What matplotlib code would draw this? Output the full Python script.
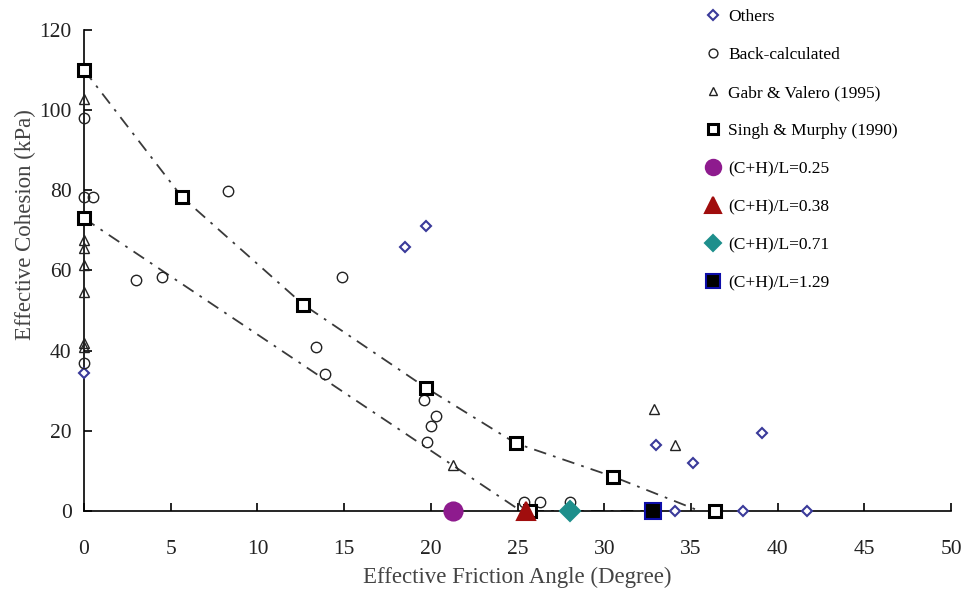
import matplotlib.pyplot as plt

plt.rcParams["font.family"] = ["Liberation Serif", "DejaVu Serif"]

# Others (blue open diamonds)
others_x = [0, 18.5, 19.7, 33.0, 35.1, 39.1, 34.1, 38.0, 41.7]
others_y = [34.5, 65.9, 71.1, 16.5, 11.9, 19.4, 0, 0, 0]

# Back-calculated (open circles)
back_x = [0, 0, 0.5, 8.3, 3.0, 4.5, 14.9, 13.4, 13.9, 0, 19.6, 20.3, 20.0, 19.8, 25.4, 26.3, 28.0]
back_y = [98, 78.3, 78.3, 79.9, 57.6, 58.4, 58.4, 40.8, 34.1, 37, 27.7, 23.7, 21.2, 17.3, 2.3, 2.3, 2.3]

# Gabr & Valero (1995) (open triangles)
gabr_x = [0, 0, 0, 0, 0, 0, 0, 21.25, 32.85, 34.06]
gabr_y = [102.7, 67.5, 65.5, 61.3, 54.7, 41, 42, 11.6, 25.4, 16.5]

# Singh & Murphy (1990) (open squares)
singh_x = [0, 0, 5.65, 12.64, 19.7, 24.9, 30.5, 36.4, 25.7]
singh_y = [110, 73, 78.3, 51.5, 30.8, 16.9, 8.6, 0, 0]

# dash-dot bounding lines
upper_x = [0, 5.65, 12.64, 19.7, 24.9, 30.5, 35.5]
upper_y = [110, 78.3, 51.5, 30.8, 16.9, 8.6, 0]
lower_x = [0, 25.2, 33.0]
lower_y = [73, 0, 0]

# model results, (C+H)/L ratios
ratio_labels = ["(C+H)/L=0.25", "(C+H)/L=0.38", "(C+H)/L=0.71", "(C+H)/L=1.29"]
ratio_x = [21.25, 25.5, 28.05, 32.8]
ratio_y = [0, 0, 0, 0]

fig = plt.figure(figsize=(9.68, 5.97), dpi=100)
ax = fig.add_axes([0.0868, 0.144, 0.8957, 0.806])

dash = (0, (7, 4, 1.5, 4))
ax.plot(upper_x, upper_y, color="#3a3a3a", lw=1.3, linestyle=dash, zorder=1)
ax.plot(lower_x, lower_y, color="#3a3a3a", lw=1.3, linestyle=dash, zorder=1)

h_others, = ax.plot(others_x, others_y, "D", ms=5.5, mfc="white", mec="#3a3a9a",
                    mew=1.5, ls="none", clip_on=False, zorder=3, label="Others")
h_back, = ax.plot(back_x, back_y, "o", ms=7.5, mfc="none", mec="#222222",
                  mew=1.0, ls="none", clip_on=False, zorder=3, label="Back-calculated")
h_gabr, = ax.plot(gabr_x, gabr_y, "^", ms=7.5, mfc="none", mec="#222222",
                  mew=1.0, ls="none", clip_on=False, zorder=3, label="Gabr & Valero (1995)")
h_singh, = ax.plot(singh_x, singh_y, "s", ms=8.5, mfc="white", mec="black",
                   mew=2.2, ls="none", clip_on=False, zorder=4, label="Singh & Murphy (1990)")

ratio_style = [("o", "#8e1b8e", "#8e1b8e", 13),
               ("^", "#a00d0d", "#a00d0d", 13),
               ("D", "#1e8f8c", "#1e8f8c", 10),
               ("s", "black", "#0d0da8", 12)]
ratio_handles = []
for i, (m, fc, ec, ms) in enumerate(ratio_style):
    h, = ax.plot(ratio_x[i], ratio_y[i], m, ms=ms, mfc=fc, mec=ec, mew=1.5,
                 ls="none", clip_on=False, zorder=5, label=ratio_labels[i])
    ratio_handles.append(h)

ax.set_xlim(0, 50)
ax.set_ylim(0, 120)
ax.set_xticks(range(0, 51, 5))
ax.set_yticks(range(0, 121, 20))
ax.spines["top"].set_visible(False)
ax.spines["right"].set_visible(False)
for s in ["left", "bottom"]:
    ax.spines[s].set_linewidth(1.2)
ax.tick_params(direction="in", length=6, width=1.2, labelsize=15.5, colors="black",
               labelcolor="#222222")
ax.tick_params(axis="x", pad=21)
ax.tick_params(axis="y", pad=9)

ax.set_xlabel("Effective Friction Angle (Degree)", fontsize=16.5, color="#444444")
ax.set_ylabel("Effective Cohesion (kPa)", fontsize=16.5, color="#444444")
ax.xaxis.set_label_coords(0.5, -0.115)
ax.yaxis.set_label_coords(-0.055, 0.595)

handles = [h_others, h_back, h_gabr, h_singh] + ratio_handles
fig.legend(handles=handles, loc="upper left", bbox_to_anchor=(0.722, 0.997),
           frameon=False, fontsize=12.5, handlelength=0.8, handletextpad=0.5,
           labelspacing=1.26, markerscale=0.85, borderaxespad=0)

plt.savefig("out.png", dpi=100)
